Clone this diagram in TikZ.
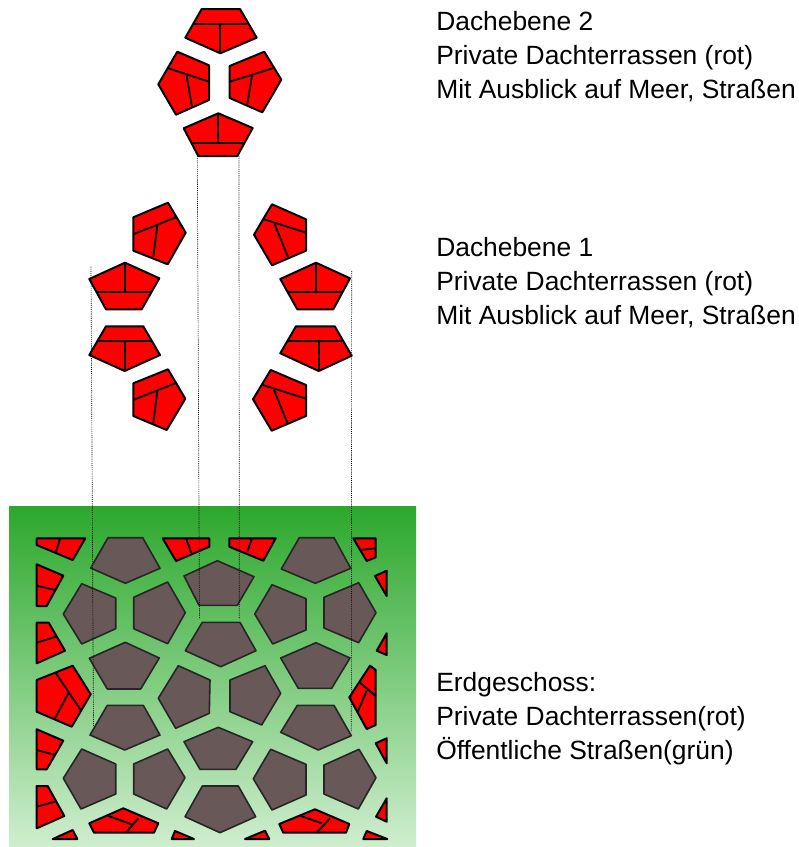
\documentclass[tikz,border=0pt]{standalone}
\usepackage{fontspec}
\setmainfont{Liberation Sans}
\definecolor{roofred}{RGB}{255,0,0}
\definecolor{blockgray}{RGB}{104,88,88}
\definecolor{gtop}{RGB}{44,168,44}
\definecolor{gmid}{RGB}{118,196,118}
\definecolor{gbot}{RGB}{207,238,207}
\tikzset{
  roof/.style={draw=black,fill=roofred,line width=1.5pt,line join=round},
  roofline/.style={draw=black,line width=1.4pt},
  block/.style={draw=black!85,fill=blockgray,line width=1.2pt,line join=round},
  projline/.style={draw=black,line width=0.5pt,dash pattern=on 0.8pt off 0.8pt},
  lbl/.style={anchor=north west,align=left,inner sep=0pt,font=\fontsize{19.8}{25.4}\selectfont}
}
\begin{document}
\begin{tikzpicture}[x=0.75pt,y=-0.75pt]
\useasboundingbox (0,0) rectangle (799,847);
\fill[white] (0,0) rectangle (799,847);
% ground
\shade[top color=gtop,middle color=gmid,bottom color=gbot] (9,506) rectangle (416,847);
% upper roof level
\draw[roof] (201.7,9)--(240,9)--(256.7,37.7)--(220.3,53.3)--(185.3,37.7)--cycle;
\draw[roofline] (194,23.7)--(246.7,23.7) (220.3,23.7)--(220.3,53.3);
\draw[roof] (177.3,51.7)--(209,65.3)--(209,100)--(176,114.7)--(158.3,84.3)--cycle;
\draw[roofline] (168.3,68.3)--(209,81.7) (186.7,76)--(192,106.7);
\draw[roof] (264.3,51.7)--(281.3,79.7)--(262.3,112.3)--(229.7,98)--(229.7,66)--cycle;
\draw[roofline] (272.7,68.3)--(229.7,81.7) (252,76)--(247.3,104.3);
\draw[roof] (218.3,113.3)--(252.7,128)--(237.3,156)--(198.3,156)--(183.7,128.3)--cycle;
\draw[roofline] (192.7,142.7)--(244.7,142.7) (218.3,113.3)--(218.3,142.7);
% middle roof level, left
\draw[roof] (168,202.7)--(185.7,232.7)--(167.7,264.3)--(133.3,250.7)--(133.3,217.3)--cycle;
\draw[roofline] (176,217.3)--(133.3,234.3) (157.3,226)--(153.3,256.7);
\draw[roof] (125,262.7)--(159.3,278.3)--(141.7,309.3)--(106,309.3)--(89.3,279)--cycle;
\draw[roofline] (96.7,292)--(150.7,292) (125,262.7)--(125,292);
\draw[roof] (106,326.3)--(143.3,326.3)--(160,355)--(124.7,371)--(89.3,355)--cycle;
\draw[roofline] (98.3,340.7)--(150.7,340.7) (124.7,340.7)--(124.7,371);
\draw[roof] (168,369.3)--(185.3,398.7)--(166.7,430)--(133.3,416)--(133.3,383.3)--cycle;
\draw[roofline] (175,383.3)--(133.3,400) (157.3,391)--(153.3,423.3);
% middle roof level, right
\draw[roof] (272,204.3)--(306,219.3)--(306,250.7)--(272,265.3)--(254,234.7)--cycle;
\draw[roofline] (264,219.3)--(306,232.7) (274.7,224.3)--(288.3,257.7);
\draw[roof] (316,262.7)--(350,278.3)--(333.3,309.3)--(297.3,309.3)--(280.3,279)--cycle;
\draw[roofline] (288.3,292)--(341.7,292) (316,262.7)--(316,292);
\draw[roof] (296,326.3)--(334.7,326.3)--(351.7,355.7)--(318.7,371)--(280.3,353.3)--cycle;
\draw[roofline] (288.3,340.7)--(341.7,340.7) (318.7,340.7)--(318.7,371);
\draw[roof] (270.7,370)--(306,385)--(306,416)--(271.7,430.7)--(253,399.3)--cycle;
\draw[roofline] (262.7,385)--(306,398.7) (274,390)--(287.3,422.7);
% ground floor blocks
\draw[block] (108,537.7)--(142.7,537.7)--(160,568.3)--(125.3,583.3)--(90.7,568)--cycle;
\draw[block] (81.7,583.7)--(115.7,598)--(115.7,628.7)--(81.7,644)--(63.3,614)--cycle;
\draw[block] (167.7,582)--(185.3,612.7)--(167.7,643.7)--(133.7,628.7)--(133.7,597.3)--cycle;
\draw[block] (125.3,642.3)--(159.3,658)--(140.7,689)--(107.3,689)--(89.3,658.3)--cycle;
\draw[block] (217.3,560.7)--(254,576.7)--(237.3,605.3)--(199,605.3)--(184,576)--cycle;
\draw[block] (202.3,622.3)--(240,622.3)--(256,650.7)--(220.7,666.7)--(185.3,650.7)--cycle;
\draw[block] (299.3,537.7)--(334,537.7)--(350.7,568.3)--(315.3,583.3)--(281.3,569)--cycle;
\draw[block] (272,584.7)--(306,598.7)--(306,630)--(272.7,644)--(254.7,614)--cycle;
\draw[block] (358.7,582.7)--(376,612.7)--(358.7,642.7)--(324,628)--(324,597.3)--cycle;
\draw[block] (316,642.7)--(350,658)--(331.7,688.3)--(298.3,688.3)--(280.7,658)--cycle;
\draw[block] (178.3,665.7)--(210,680)--(209.3,713.3)--(175.7,728.3)--(158.3,698.3)--cycle;
\draw[block] (265,665.7)--(280.7,693.3)--(261.7,725)--(230,711.7)--(230,680)--cycle;
\draw[block] (107.3,705.3)--(143.3,705.3)--(160,735)--(124.7,750)--(90,735)--cycle;
\draw[block] (297.3,705.3)--(334,705.3)--(351.3,735.7)--(318.3,750)--(280.7,732.3)--cycle;
\draw[block] (218.3,727.3)--(252.7,741.7)--(236,769.3)--(200,769.3)--(184,741.7)--cycle;
\draw[block] (81.7,749)--(115.7,764)--(115.7,794)--(81,809)--(63.3,778.3)--cycle;
\draw[block] (167.7,749)--(185,777.7)--(166.7,809)--(133.7,794)--(133.7,764)--cycle;
\draw[block] (270.7,749.3)--(306,764.3)--(306,795)--(272,810)--(253.3,778.7)--cycle;
\draw[block] (359,749.3)--(376,777.7)--(358.3,809)--(324,794)--(324,765)--cycle;
\draw[block] (202.3,786)--(238.3,786)--(255.7,816.7)--(220,832.7)--(185,816.7)--cycle;
% ground floor terraces
\draw[roof] (36.7,538.3)--(85.3,538.3)--(72.7,560)--(36.7,545)--cycle;
\draw[roofline] (60,539.3)--(56,551.7);
\draw[roof] (162.7,538.3)--(209.3,538.3)--(209.3,546.7)--(176,561)--cycle;
\draw[roofline] (186,538.3)--(191.3,552.7);
\draw[roof] (229.3,538.3)--(275.7,538.3)--(263.3,560.7)--(229.3,546.7)--cycle;
\draw[roofline] (251.7,539.3)--(247.3,551.7);
\draw[roof] (36.7,564.3)--(63.3,575.7)--(46.7,606)--(36.7,606)--cycle;
\draw[roofline] (36.7,585.7)--(55,590);
\draw[roof] (36.7,622.7)--(48.7,622.7)--(65,650.7)--(36.7,663.3)--cycle;
\draw[roofline] (36.7,642.7)--(56,636.7);
\draw[roof] (72.7,665.7)--(90.7,694.3)--(71.7,726.7)--(36.7,711.7)--(36.7,680)--cycle;
\draw[roofline] (56,673.3)--(80.7,710) (68.3,693.3)--(55,718.3);
\draw[roof] (36.7,729.3)--(63.3,740.7)--(46.7,769.3)--(36.7,769.3)--cycle;
\draw[roofline] (36.7,750)--(55,755);
\draw[roof] (36.7,786)--(47.7,786)--(64.3,816)--(36.7,828.3)--cycle;
\draw[roofline] (36.7,806.7)--(55,801.7);
\draw[roof] (52.7,839)--(72.7,830)--(77.3,839)--cycle;
\draw[roof] (171.7,839)--(175,831)--(194,839)--cycle;
\draw[roof] (123.3,808.3)--(158.3,823.3)--(154,832.7)--(94,832.7)--(89.3,823.3)--cycle;
\draw[roofline] (108.3,816)--(131.7,824.3) (138.3,818.3)--(126,832.7);
\draw[roof] (315,809.3)--(349.3,824)--(346,832.7)--(283.3,832.7)--(279.3,824)--cycle;
\draw[roofline] (300.7,816)--(321.7,823.3) (330,818.3)--(316.7,832.7);
\draw[roof] (245,839)--(265,830.7)--(269.3,839)--cycle;
\draw[roof] (363.3,839)--(366.7,831)--(387.3,839)--cycle;
\draw[roof] (375.7,743.3)--(386.7,738.3)--(386.7,763.3)--cycle;
\draw[roof] (386.7,798.3)--(386.7,821.7)--(376,816.7)--cycle;
\draw[roof] (370,665.7)--(375.7,670)--(375.7,725)--(366.7,729)--(349.3,697.3)--cycle;
\draw[roofline] (360,682.7)--(375.7,696) (366.7,690.7)--(357.7,711.7);
\draw[roof] (353.3,538.3)--(375.7,538.3)--(375.7,557.3)--(366.7,561)--cycle;
\draw[roofline] (360,550)--(375.7,548.3);
\draw[roof] (375,576)--(386.7,570.7)--(386.7,596)--cycle;
\draw[roof] (386.7,633.3)--(386.7,655)--(376.7,650.7)--cycle;
% projection lines
\coordinate (pa1) at (91,266.5);  \coordinate (pa2) at (93.5,727);
\coordinate (pb1) at (197.3,156); \coordinate (pb2) at (199.5,619);
\coordinate (pc1) at (239,156);   \coordinate (pc2) at (239.3,619);
\coordinate (pd1) at (351.7,271); \coordinate (pd2) at (351.3,732);
\draw[projline] (pa1)--(pa2);
\draw[projline] (pb1)--(pb2);
\draw[projline] (pc1)--(pc2);
\draw[projline] (pd1)--(pd2);
% labels
\node[lbl] (t1) at (436,11) {Dachebene 2\\Private Dachterrassen (rot)\\Mit Ausblick auf Meer, Straßen};
\node[lbl] (t2) at (436,237) {Dachebene 1\\Private Dachterrassen (rot)\\Mit Ausblick auf Meer, Straßen};
\node[lbl] (t3) at (436,672) {Erdgeschoss:\\Private Dachterrassen(rot)\\Öffentliche Straßen(grün)};
\end{tikzpicture}
\end{document}
